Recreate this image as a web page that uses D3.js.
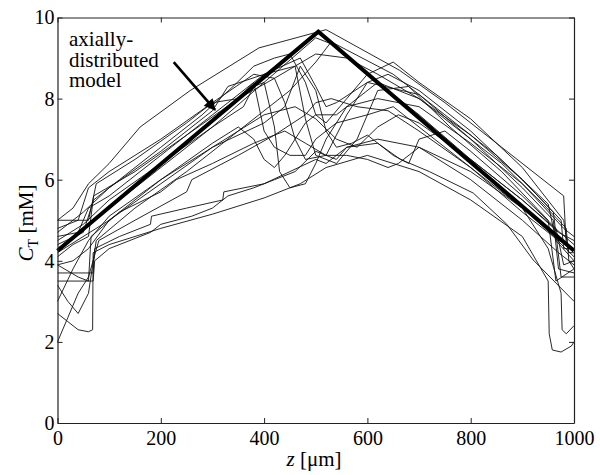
<!DOCTYPE html>
<html><head><meta charset="utf-8">
<script src="https://cdn.jsdelivr.net/npm/d3@7"></script>
</head><body style="margin:0;background:#fff">
<svg id="c" width="600" height="475" style="font-family:'Liberation Serif','Times New Roman',Tinos,serif"></svg>
<script>
const xTicks=[0,200,400,600,800,1000];
const yTicks=[0,2,4,6,8,10];
const xLabel="z";
const xUnit=" [μm]";
const yLabel="C";
const ySub="T";
const yUnit=" [mM]";
const annotation=["axially-","distributed","model"];
const arrowFrom=[225,8.9];
const arrowTo=[305,7.72];
const model=[[0,4.25],[505,9.65],[1000,4.25]];

const run1=[[0,5.0],[30,5.3],[60,5.9],[100,6.4],[160,7.3],[257,8.2],[390,9.25],[520,9.7],[662,8.7],[750,7.9],[860,6.8],[980,5.6],[985,4.4],[1000,4.3]];
const run2=[[0,4.8],[40,5.0],[60,5.8],[100,6.2],[200,7.0],[300,7.9],[380,8.6],[420,8.5],[440,7.9],[460,7.0],[480,6.5],[520,6.6],[560,7.6],[600,8.4],[700,8.1],[800,7.0],[900,5.8],[960,5.0],[970,3.8],[1000,3.7]];
const run3=[[0,4.3],[100,5.3],[200,6.3],[300,7.3],[400,8.4],[500,9.5],[540,9.3],[600,8.6],[700,7.6],[800,6.5],[900,5.5],[1000,4.4]];
const run4=[[0,4.1],[30,4.4],[60,4.6],[70,5.6],[150,6.2],[250,7.1],[350,8.0],[420,8.5],[460,8.8],[480,7.5],[500,6.6],[540,6.4],[580,7.0],[620,8.2],[680,8.3],[760,7.3],[860,6.2],[950,5.0],[965,3.5],[1000,3.8]];
const run5=[[0,3.7],[40,3.7],[69,3.7],[72,4.3],[120,4.6],[180,4.9],[182,5.1],[250,5.3],[320,5.5],[322,5.7],[400,5.9],[450,6.2],[500,6.5],[520,6.4],[560,6.8],[620,6.9],[664,6.5],[720,6.2],[805,5.67],[870,4.9],[921,4.02],[1000,3.0]];
const run6=[[0,2.7],[20,2.5],[40,2.3],[60,2.25],[68,2.3],[69,4.2],[100,4.4],[200,4.8],[300,5.15],[400,5.55],[470,5.9],[520,6.3],[600,6.6],[700,6.2],[800,5.5],[900,4.6],[950,3.5],[952,2.2],[958,1.8],[975,1.75],[995,1.9],[1000,2.0]];
const run7=[[0,5.0],[60,5.0],[75,5.9],[150,6.5],[250,7.4],[300,7.9],[350,8.0],[380,8.4],[400,7.2],[420,6.8],[450,6.6],[480,6.6],[500,7.0],[540,7.4],[600,7.6],[650,7.8],[700,7.3],[800,6.3],[900,5.3],[970,4.5],[1000,4.3]];
const run8=[[0,3.4],[20,3.0],[40,2.7],[60,3.2],[75,4.5],[150,5.3],[250,6.2],[350,7.2],[450,8.2],[500,8.9],[530,9.4],[560,9.2],[650,8.6],[750,7.6],[850,6.6],[950,5.4],[965,4.5],[1000,4.0]];
const run9=[[0,2.0],[20,2.6],[40,3.2],[60,3.6],[80,4.5],[150,5.0],[250,5.7],[260,6.0],[350,6.6],[420,7.1],[480,7.6],[500,7.9],[530,8.0],[580,7.8],[640,7.7],[700,7.2],[800,6.3],[900,5.2],[960,4.6],[1000,4.1]];
const run10=[[0,4.5],[50,4.9],[100,5.5],[200,6.4],[300,7.3],[360,7.8],[380,8.3],[400,8.4],[420,7.3],[430,6.2],[450,5.8],[480,5.9],[500,6.4],[520,7.0],[560,7.8],[620,8.0],[700,7.8],[800,6.9],[900,5.9],[980,4.8],[1000,4.6]];
const run11=[[0,4.6],[40,4.7],[60,5.3],[100,5.6],[200,6.6],[300,7.6],[400,8.6],[470,9.0],[500,8.3],[520,7.8],[540,7.9],[600,8.4],[640,8.6],[700,8.2],[800,7.2],[900,6.0],[960,5.2],[975,3.6],[1000,3.6]];
const run12=[[0,3.9],[30,4.0],[60,4.3],[100,5.0],[200,5.9],[300,6.8],[400,7.6],[460,7.8],[500,7.5],[540,7.0],[580,6.8],[620,7.3],[660,7.6],[700,7.4],[800,6.5],[900,5.5],[970,4.7],[1000,4.5]];
const run13=[[0,4.2],[100,5.0],[200,6.0],[300,6.8],[400,7.4],[440,7.8],[470,8.8],[500,8.2],[520,7.2],[540,6.8],[570,6.9],[600,7.1],[650,6.6],[680,6.4],[700,7.0],[750,7.2],[800,6.7],[900,5.6],[965,4.8],[980,3.9],[1000,4.0]];
const run14=[[0,3.5],[69,3.5],[72,4.0],[100,4.3],[180,4.7],[200,4.9],[260,5.1],[300,5.3],[330,5.6],[380,5.8],[420,6.0],[460,6.2],[500,6.7],[540,6.5],[560,6.8],[620,7.0],[700,6.8],[800,6.0],[900,5.0],[970,4.2],[1000,3.9]];
const run15=[[0,4.4],[50,4.7],[70,5.5],[120,6.0],[200,6.8],[280,7.6],[340,8.3],[380,8.8],[420,9.0],[450,9.1],[480,8.4],[500,7.6],[520,7.4],[560,8.0],[600,8.6],[650,8.9],[700,8.4],[800,7.5],[900,6.3],[980,5.0],[990,4.2],[1000,4.2]];
const run16=[[0,3.0],[30,3.8],[60,4.5],[100,5.1],[200,6.0],[300,6.9],[350,7.3],[380,7.0],[400,6.5],[420,6.3],[440,6.6],[480,7.4],[500,7.6],[540,7.6],[580,8.0],[620,8.4],[700,8.0],[800,7.1],[900,6.0],[975,5.0],[980,4.3],[1000,4.3]];
const run17=[[0,4.7],[50,5.2],[100,5.8],[200,6.7],[300,7.7],[330,8.3],[400,8.6],[460,8.8],[500,9.1],[560,9.0],[620,8.6],[700,8.0],[800,7.0],[860,6.4],[940,5.4],[985,4.8],[990,4.0],[1000,3.8]];
const run18=[[0,3.9],[40,3.6],[60,3.5],[65,4.6],[120,5.2],[200,5.7],[230,6.0],[300,6.4],[380,6.9],[440,7.2],[480,6.9],[520,6.6],[560,6.6],[600,6.5],[640,6.3],[660,6.4],[700,6.8],[800,6.2],[900,5.3],[950,4.3],[975,3.2],[977,2.3],[985,2.2],[1000,2.4]];
const runs=[run1,run2,run3,run4,run5,run6,run7,run8,run9,run10,run11,run12,run13,run14,run15,run16,run17,run18];

const svg=d3.select("#c");
const FF="'Liberation Serif','Times New Roman',Tinos,serif";
const xs=d3.scaleLinear().domain([0,1000]).range([57.5,574]);
const ys=d3.scaleLinear().domain([0,10]).range([423,17.5]);

const lineGen=d3.line().x(d=>xs(d[0])).y(d=>ys(d[1]));

const g=svg.append("g");
g.selectAll("path.run").data(runs).join("path").attr("class","run")
  .attr("d",lineGen).attr("fill","none").attr("stroke","#111").attr("stroke-width",0.9)
  .attr("stroke-linejoin","round");

g.append("path").datum(model).attr("d",lineGen).attr("fill","none")
  .attr("stroke","#000").attr("stroke-width",4).attr("stroke-linejoin","miter");

function serif(sel,size){
  return sel.attr("font-family",FF).style("font-family",FF,"important").style("font-size",size+"px");
}
function styleAxis(sel){
  sel.attr("font-family",null).attr("font-size",null);
  sel.selectAll("path.domain").attr("stroke","#222").attr("stroke-width",1.2);
  sel.selectAll(".tick line").attr("stroke","#222").attr("stroke-width",1);
  serif(sel.selectAll("text").attr("fill","#000"),20);
}
const fmt=d3.format("d");
const ax=svg.append("g").attr("transform",`translate(0,${ys(0)})`)
  .call(d3.axisBottom(xs).tickValues(xTicks).tickFormat(fmt).tickSizeInner(-5).tickSizeOuter(0).tickPadding(8));
styleAxis(ax);
const ay=svg.append("g").attr("transform",`translate(${xs(0)},0)`)
  .call(d3.axisLeft(ys).tickValues(yTicks).tickFormat(fmt).tickSizeInner(-5).tickSizeOuter(0).tickPadding(3));
styleAxis(ay);
const at=svg.append("g").attr("transform",`translate(0,${ys(10)})`)
  .call(d3.axisTop(xs).tickValues(xTicks).tickSizeInner(-5).tickSizeOuter(0).tickFormat(""));
styleAxis(at);
const ar=svg.append("g").attr("transform",`translate(${xs(1000)},0)`)
  .call(d3.axisRight(ys).tickValues(yTicks).tickSizeInner(-5).tickSizeOuter(0).tickFormat(""));
styleAxis(ar);

// x label
const xl=serif(svg.append("text").attr("x",314).attr("y",466).attr("text-anchor","middle"),21);
xl.append("tspan").attr("font-style","italic").text(xLabel);
xl.append("tspan").text(xUnit);

// y label
const yl=serif(svg.append("text").attr("transform","translate(33,223) rotate(-90)").attr("text-anchor","middle"),21);
yl.append("tspan").attr("font-style","italic").text(yLabel);
yl.append("tspan").style("font-size","14px").attr("dy",5).text(ySub);
yl.append("tspan").attr("dy",-5).text(yUnit);

// annotation
annotation.forEach((t,i)=>serif(svg.append("text").attr("fill","#000")
  .attr("x",69).attr("y",46+i*20.5),21).text(t));

svg.append("defs").append("marker").attr("id","ah").attr("viewBox","0 0 10 10")
  .attr("refX",9).attr("refY",5).attr("markerWidth",5).attr("markerHeight",4.5)
  .attr("orient","auto").append("path").attr("d","M0,0L10,5L0,10z").attr("fill","#000");
svg.append("line").attr("x1",xs(arrowFrom[0])).attr("y1",ys(arrowFrom[1]))
  .attr("x2",xs(arrowTo[0])).attr("y2",ys(arrowTo[1]))
  .attr("stroke","#000").attr("stroke-width",2.6).attr("marker-end","url(#ah)");
</script>
</body></html>
